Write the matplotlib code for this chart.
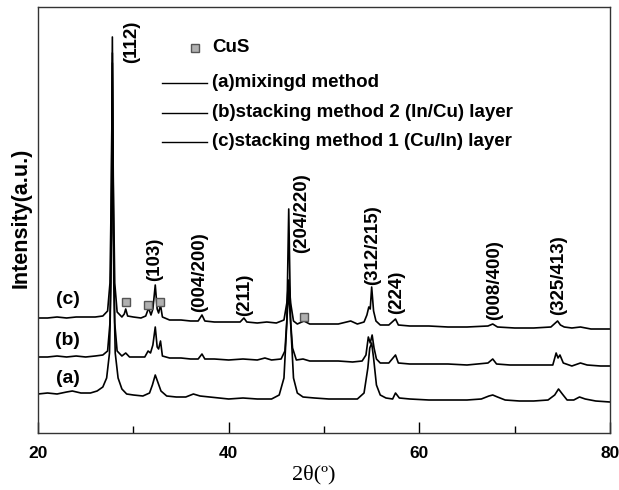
# XRD patterns of the three precursor routes, offset vertically

import matplotlib
matplotlib.use('Agg')
import matplotlib.pyplot as plt
from matplotlib.ticker import MultipleLocator

plt.rcParams['font.family'] = ['Liberation Sans', 'DejaVu Sans']

# (2theta, intensity), arbitrary units with offsets
a_tt = [20.0, 21.0, 22.0, 23.0, 23.6, 24.5, 25.5, 26.2, 26.8, 27.2, 27.5, 27.65, 27.8, 27.95, 28.1, 28.4,
        28.8, 29.3, 30.0, 31.0, 31.7, 32.0, 32.3, 32.6, 32.9, 33.5, 34.5, 35.5, 36.3, 37.0, 38.0, 39.0,
        40.0, 41.5, 43.0, 44.5, 45.3, 45.8, 46.1, 46.3, 46.5, 46.8, 47.2, 47.8, 49.0, 50.5, 52.0, 53.5,
        54.2, 54.6, 54.8, 55.0, 55.2, 55.5, 55.9, 56.5, 57.2, 57.5, 57.9, 59.0, 61.0, 63.0, 65.0, 66.5,
        67.3, 67.7, 68.2, 69.0, 70.5, 72.0, 73.5, 74.2, 74.6, 75.0, 75.5, 76.2, 76.8, 77.4, 78.5, 80.0]
a_int = [39, 40, 39, 41, 42, 40, 40, 42, 46, 55, 80, 150, 396, 150, 80, 55,
         44, 39, 38, 37, 40, 48, 58, 50, 42, 37, 36, 36, 39, 37, 36, 35,
         34, 35, 34, 34, 38, 55, 110, 224, 110, 55, 40, 36, 35, 34, 34, 34,
         40, 65, 85, 90, 75, 48, 38, 35, 34, 40, 35, 34, 33, 33, 33, 34,
         37, 38, 36, 33, 32, 32, 33, 38, 44, 39, 33, 33, 36, 34, 32, 31]

b_tt = [20.0, 21.0, 22.0, 23.0, 24.0, 25.0, 26.0, 26.8, 27.3, 27.55, 27.7, 27.8, 27.9, 28.05, 28.3, 28.8,
        29.2, 29.6, 30.5, 31.2, 31.55, 31.8, 32.05, 32.3, 32.5, 32.65, 32.85, 33.05, 33.8, 35.0, 36.0, 36.8,
        37.2, 37.5, 38.5, 40.0, 41.5, 43.0, 43.8, 44.5, 45.5, 45.9, 46.15, 46.3, 46.45, 46.7, 47.1, 47.8,
        48.5, 50.0, 51.5, 53.0, 54.0, 54.4, 54.65, 54.85, 55.05, 55.25, 55.5, 55.9, 56.8, 57.5, 57.8, 59.0,
        61.0, 63.0, 65.0, 67.2, 67.7, 68.1, 69.5, 71.0, 72.5, 74.0, 74.35, 74.55, 74.75, 75.1, 76.0, 76.9,
        77.6, 79.0, 80.0]
b_int = [76, 76, 77, 76, 77, 76, 77, 78, 82, 110, 200, 380, 200, 110, 82, 77,
         80, 76, 76, 76, 82, 80, 88, 106, 86, 84, 92, 77, 75, 75, 74, 74,
         79, 74, 74, 73, 74, 73, 75, 73, 74, 82, 120, 143, 118, 85, 73, 74,
         72, 72, 72, 71, 72, 78, 96, 90, 98, 85, 74, 70, 70, 78, 70, 69,
         69, 69, 68, 70, 74, 69, 68, 68, 68, 68, 80, 75, 78, 70, 67, 70,
         68, 67, 67]

c_tt = [20.0, 21.0, 22.0, 23.0, 24.0, 25.0, 26.0, 26.8, 27.3, 27.55, 27.7, 27.8, 27.9, 28.05, 28.3, 28.8,
        29.05, 29.2, 29.4, 30.0, 30.8, 31.3, 31.6, 31.85, 32.05, 32.3, 32.5, 32.65, 32.85, 33.05, 33.8, 35.0,
        36.0, 36.8, 37.2, 37.5, 38.5, 40.0, 41.2, 41.6, 41.9, 43.0, 44.0, 45.0, 45.8, 46.1, 46.3, 46.5,
        46.8, 47.2, 47.9, 48.5, 50.0, 51.5, 52.8, 53.5, 54.2, 54.5, 54.7, 54.85, 55.0, 55.2, 55.45, 55.9,
        56.8, 57.5, 57.8, 59.0, 61.0, 63.0, 65.0, 67.2, 67.7, 68.2, 70.0, 72.0, 73.8, 74.5, 74.8, 75.2,
        76.0, 76.9, 78.0, 80.0]
c_int = [115, 115, 116, 115, 116, 116, 116, 117, 122, 150, 250, 370, 250, 150, 121, 116,
         119, 124, 117, 116, 115, 117, 125, 118, 124, 148, 124, 120, 128, 116, 113, 113,
         112, 112, 118, 112, 111, 111, 111, 115, 111, 110, 111, 110, 113, 130, 153, 130,
         112, 109, 112, 109, 109, 109, 112, 109, 111, 118, 126, 124, 146, 122, 112, 108,
         108, 114, 108, 107, 107, 106, 106, 107, 109, 106, 105, 105, 106, 112, 108, 106,
         105, 106, 104, 104]

# CuS reflections marked on trace (c)
cus_tt = [29.2, 31.55, 32.8, 47.85]
cus_int = [131, 128, 131, 116]

# reflection labels (hkl), at their 2theta and the height of the label foot
hkl_labels = ['(112)', '(103)', '(004/200)', '(211)', '(204/220)', '(312/215)', '(224)', '(008/400)', '(325/413)']
hkl_tt = [29.85, 32.25, 37.0, 41.7, 47.7, 55.05, 57.65, 67.9, 74.65]
hkl_int = [370, 152, 121, 117, 180, 148, 119, 113, 118]

trace_tags = ['(c)', '(b)', '(a)']
trace_tag_int = [134, 93, 55]

legend_labels = ['(a)mixingd method', '(b)stacking method 2 (In/Cu) layer', '(c)stacking method 1 (Cu/In) layer']


fig = plt.figure(figsize=(6.19, 4.90), dpi=100)
ax = fig.add_axes([38/619., 1 - 433/490., 572/619., 426/490.])

for tt, inten in [(a_tt, a_int), (b_tt, b_int), (c_tt, c_int)]:
    ax.plot(tt, inten, color='black', lw=1.2)

ax.plot(cus_tt, cus_int, ls='none', marker='s', ms=6, mfc='#b0b0b0', mec='#555555', mew=1.0)

for lab, x, y in zip(hkl_labels, hkl_tt, hkl_int):
    ax.text(x, y, lab, rotation=90, ha='center', va='bottom', fontsize=13.5, fontweight='bold')

for tag, y in zip(trace_tags, trace_tag_int):
    ax.text(23.1, y, tag, ha='center', va='center', fontsize=14, fontweight='bold')

# legend drawn by hand, positions in axes fraction
leg_x0, leg_x1, leg_tx = 0.2168, 0.2955, 0.3042
ax.plot([0.2745], [0.9038], transform=ax.transAxes, ls='none', marker='s', ms=6,
        mfc='#b0b0b0', mec='#555555', mew=1.0)
ax.text(leg_tx, 0.9038, 'CuS', transform=ax.transAxes, va='center', fontsize=13.5, fontweight='bold')
for lab, y in zip(legend_labels, [0.8216, 0.7512, 0.6831]):
    ax.plot([leg_x0, leg_x1], [y, y], transform=ax.transAxes, color='black', lw=1.0)
    ax.text(leg_tx, y, lab, transform=ax.transAxes, va='center', fontsize=13.5, fontweight='bold')

ax.set_xlim(20, 80)
ax.set_ylim(0, 426)
ax.xaxis.set_major_locator(MultipleLocator(20))
ax.xaxis.set_minor_locator(MultipleLocator(10))
ax.tick_params(axis='x', which='both', direction='in', top=False, labelsize=12.5, width=1.0, pad=9)
ax.tick_params(axis='x', which='major', length=8)
ax.tick_params(axis='x', which='minor', length=5)
for t in ax.get_xticklabels():
    t.set_fontweight('bold')
ax.set_yticks([])
for sp in ax.spines.values():
    sp.set_linewidth(1.0)
    sp.set_color('#333333')

ax.set_xlabel('2θ(º)', fontsize=16, family='Liberation Serif')
ax.xaxis.set_label_coords(0.4825, -0.075)
ax.set_ylabel('Intensity(a.u.)', fontsize=15.5, fontweight='bold')
ax.yaxis.set_label_coords(-0.012, 0.505)

fig.savefig('out.png', dpi=100)
